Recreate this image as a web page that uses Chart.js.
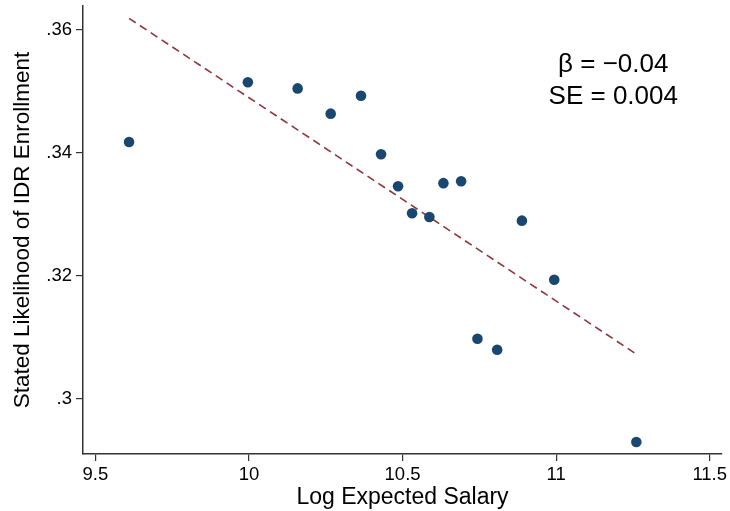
<!DOCTYPE html>
<html><head><meta charset="utf-8">
<script src="https://cdn.jsdelivr.net/npm/chart.js@4"></script>
<style>html,body{margin:0;padding:0;background:#fff}#wrap{width:730px;height:511px}</style>
</head><body><div id="wrap"><canvas id="c" width="730" height="511"></canvas></div>
<script>
const logSalary = [9.6095, 9.9964, 10.1584, 10.266, 10.3647, 10.430, 10.4853, 10.531, 10.5873, 10.633, 10.6907, 10.7438, 10.808, 10.8885, 10.9938, 11.2611];
const likelihood = [0.3418, 0.3515, 0.3505, 0.3464, 0.3493, 0.3398, 0.3346, 0.3302, 0.3296, 0.3351, 0.3354, 0.3098, 0.3080, 0.3290, 0.3194, 0.2930];
const fitX = [9.6095, 11.2611];
const fitY = [0.3619, 0.3073];
const xTicks = [9.5, 10, 10.5, 11, 11.5];
const yTicks = [0.30, 0.32, 0.34, 0.36];
const annotationLines = ["\u03B2 = \u22120.04", "SE = 0.004"];

const FONT = "'Liberation Sans', Arial, sans-serif";
const annot = {
  id: 'annot',
  afterDatasetsDraw(chart) {
    const ctx = chart.ctx, xs = chart.scales.x, ys = chart.scales.y;
    ctx.save();
    ctx.fillStyle = '#000';
    ctx.font = '26px ' + FONT;
    ctx.textAlign = 'center';
    ctx.textBaseline = 'middle';
    const cx = xs.getPixelForValue(11.186);
    ctx.fillText(annotationLines[0], cx, ys.getPixelForValue(0.3544));
    ctx.fillText(annotationLines[1], cx, ys.getPixelForValue(0.3492));
    ctx.restore();
  }
};

new Chart(document.getElementById('c'), {
  type: 'scatter',
  data: {
    datasets: [
      {
        label: 'points',
        data: logSalary.map((x, i) => ({x, y: likelihood[i]})),
        backgroundColor: '#1a476f',
        borderColor: '#1a476f',
        pointRadius: 5.3,
        pointHoverRadius: 5.3,
        borderWidth: 0
      },
      {
        label: 'fit',
        type: 'line',
        data: fitX.map((x, i) => ({x, y: fitY[i]})),
        borderColor: '#90353b',
        borderWidth: 1.6,
        borderDash: [8, 5],
        pointRadius: 0,
        fill: false
      }
    ]
  },
  options: {
    responsive: false,
    animation: false,
    layout: {padding: {top: 6, right: 8, left: 0, bottom: 0}},
    plugins: {legend: {display: false}, tooltip: {enabled: false}},
    scales: {
      x: {
        type: 'linear',
        min: 9.4596, max: 11.540,
        afterBuildTicks: s => { s.ticks = xTicks.map(v => ({value: v})); },
        afterFit: s => { s.height = 57; s.paddingLeft = 0; s.paddingRight = 0; },
        ticks: {color: '#000', font: {family: FONT, size: 18.5}, padding: 3, maxRotation: 0, autoSkip: false,
          callback: v => String(v)},
        grid: {drawOnChartArea: false, drawTicks: true, tickLength: 7, color: '#333', lineWidth: 1.2},
        border: {display: true, color: '#333', width: 1.5},
        title: {display: true, text: 'Log Expected Salary', color: '#000', font: {family: FONT, size: 23}, padding: {top: 3, bottom: 0}}
      },
      y: {
        type: 'linear',
        min: 0.29106, max: 0.3639,
        afterBuildTicks: s => { s.ticks = yTicks.map(v => ({value: v})); },
        afterFit: s => { s.width = 83; s.paddingTop = 0; s.paddingBottom = 0; },
        ticks: {color: '#000', font: {family: FONT, size: 18.5}, padding: 4, autoSkip: false,
          callback: v => { const r = Math.round(v * 100) / 100; return String(r).replace(/^0/, ''); }},
        grid: {drawOnChartArea: false, drawTicks: true, tickLength: 7, color: '#333', lineWidth: 1.2},
        border: {display: true, color: '#333', width: 1.5},
        title: {display: true, text: 'Stated Likelihood of IDR Enrollment', color: '#000', font: {family: FONT, size: 22.5}, padding: {top: 9, bottom: 0}}
      }
    }
  },
  plugins: [annot]
});
</script></body></html>
